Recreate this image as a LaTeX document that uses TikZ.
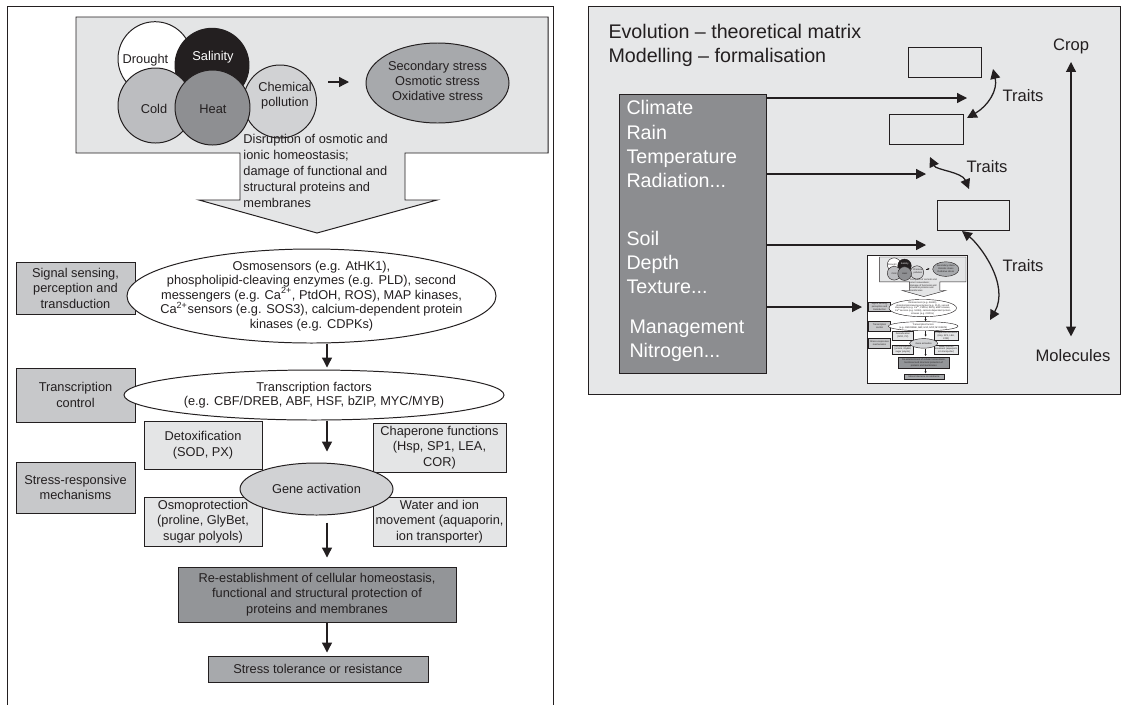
\documentclass[tikz,border=0pt]{standalone}
\usepackage{fontspec}
\setmainfont{Liberation Sans}
\usetikzlibrary{shapes.geometric,arrows.meta,calc}

\definecolor{ink}{HTML}{231F20}
\definecolor{paleg}{HTML}{E4E5E6}
\definecolor{lightg}{HTML}{D1D2D4}
\definecolor{midg}{HTML}{C7C8CA}
\definecolor{coldg}{HTML}{BCBDC0}
\definecolor{darkg}{HTML}{939598}
\definecolor{heatg}{HTML}{8E8F92}
\definecolor{secg}{HTML}{A7A9AC}
\definecolor{envg}{HTML}{8C8D90}
\definecolor{backg}{HTML}{E6E7E8}

\newcommand{\boxfont}{\fontsize{9.1}{11}\selectfont}
\newcommand{\ellfont}{\fontsize{9.1}{10.4}\selectfont}
\newcommand{\envfont}{\fontsize{14}{17.1}\selectfont}
\newcommand{\lblfont}{\fontsize{11.8}{14}\selectfont}

\newcommand{\stresspanel}{%
	\draw [ink, fill=white] (7,-6) rectangle (553,-706);
	\draw [ink, fill=paleg] (76,-17) -- (548,-17) -- (548,-153) -- (405,-153) -- (405,-200) -- (437,-200) -- (317,-233) -- (199,-200) -- (240,-200) -- (240,-153) -- (76,-153) -- cycle;
	\node [blob, fill=white, minimum size=18.5mm] (drought) at (155,-58.7) {};
	\node [blob, fill=lightg, minimum size=18.25mm] (chem) at (280,-101.5) {};
	\node [blob, fill=ink, minimum size=18.5mm] (salt) at (212,-65.3) {};
	\node [blob, fill=coldg, minimum size=18.75mm] (cold) at (155.5,-105.5) {};
	\node [blob, fill=heatg, minimum size=18.75mm] (heat) at (212.5,-107.5) {};
	\node [boxtext] (droughttxt) at (145.5,-60) {Drought};
	\node [boxtext, text=white] (salttxt) at (213,-57) {Salinity};
	\node [boxtext] (chemtxt) at (285,-95.8) {Chemical\\pollution};
	\node [boxtext] (coldtxt) at (154,-109) {Cold};
	\node [boxtext] (heattxt) at (213,-109) {Heat};
	\coordinate (sa) at (328,-82);
	\coordinate (sb) at (349,-82);
	\draw [flow] (sa) -- (sb);
	\node [ell, fill=secg, minimum width=35.75mm, minimum height=20mm] (sec) at (437.5,-83) {};
	\node [elltext] (sectxt) at (437.5,-81) {Secondary stress\\Osmotic stress\\Oxidative stress};
	\node [elltext, align=left, anchor=west, font=\fontsize{9.1}{11.5}\selectfont] (disr) at (243,-171) {Disruption of osmotic and\\ionic homeostasis;\\damage of functional and\\structural proteins and\\membranes};
	\node [box, fill=midg, minimum width=29.75mm, minimum height=13mm] (sig) at (75.5,-288) {Signal sensing,\\perception and\\transduction};
	\node [box, fill=midg, minimum width=29.75mm, minimum height=13.5mm] (trc) at (75.5,-395) {Transcription\\control};
	\node [box, fill=midg, minimum width=29.75mm, minimum height=12.75mm] (srm) at (75.5,-487.5) {Stress-responsive\\mechanisms};
	\node [box, fill=paleg, minimum width=29.5mm, minimum height=12mm] (detox) at (203,-445) {Detoxification\\(SOD, PX)};
	\node [box, fill=paleg, minimum width=33.25mm, minimum height=12.25mm] (chap) at (439.5,-447.5) {Chaperone functions\\(Hsp, SP1, LEA,\\COR)};
	\node [box, fill=paleg, minimum width=29.5mm, minimum height=12.25mm] (osmo) at (203,-521.5) {Osmoprotection\\(proline, GlyBet,\\sugar polyols)};
	\node [box, fill=paleg, minimum width=33.25mm, minimum height=12.25mm] (water) at (439.5,-521.5) {Water and ion\\movement (aquaporin,\\ion transporter)};
	\node [ell, fill=white, minimum width=92.25mm, minimum height=23.5mm] (sens) at (311.5,-296) {};
	\node [elltext] (senstxt) at (sens) {Osmosensors (e.g. AtHK1),\\phospholipid-cleaving enzymes (e.g. PLD), second\\messengers (e.g. Ca\textsuperscript{2+}, PtdOH, ROS), MAP kinases,\\Ca\textsuperscript{2+}sensors (e.g. SOS3), calcium-dependent protein\\kinases (e.g. CDPKs)};
	\node [ell, fill=white, minimum width=95mm, minimum height=12.5mm] (tf) at (314,-395) {};
	\node [elltext] (tftxt) at (tf) {Transcription factors\\(e.g. CBF/DREB, ABF, HSF, bZIP, MYC/MYB)};
	\node [ell, fill=lightg, minimum width=38.25mm, minimum height=13mm] (gene) at (316.5,-489) {};
	\node [elltext] (genetxt) at (gene) {Gene activation};
	\node [box, fill=darkg, minimum width=69.5mm, minimum height=13.75mm] (reest) at (317,-594.5) {Re-establishment of cellular homeostasis,\\functional and structural protection of\\proteins and membranes};
	\node [box, fill=secg, minimum width=55mm, minimum height=6.5mm] (tol) at (318,-669) {Stress tolerance or resistance};
	\coordinate (axis) at (327,0);
	\draw [flow] (sens.south -| axis) -- ($(tf.north -| axis)+(0,2)$);
	\draw [flow] (tf.south -| axis) -- ($(gene.north -| axis)+(0,11)$);
	\draw [flow] ($(gene.south -| axis)+(0,-7)$) -- ($(reest.north -| axis)+(0,9)$);
	\draw [flow] (reest.south -| axis) -- ($(tol.north -| axis)+(0,3)$);
}

\begin{document}
\begin{tikzpicture}[x=0.25mm, y=0.25mm, line width=0.7pt]
	\tikzstyle{every node}+=[inner sep=0pt, text=ink]
	\tikzstyle{blob}=[circle, draw=ink]
	\tikzstyle{boxtext}=[align=center, font=\boxfont]
	\tikzstyle{box}=[rectangle, draw=ink, align=center, font=\boxfont]
	\tikzstyle{ell}=[ellipse, draw=ink]
	\tikzstyle{elltext}=[align=center, font=\ellfont]
	\tikzstyle{envtext}=[align=left, font=\envfont, text=white]
	\tikzstyle{lvbox}=[rectangle, draw=ink, minimum height=7.5mm]
	\tikzstyle{lbl}=[font=\lblfont]
	\tikzstyle{flow}=[draw=ink, line width=0.9pt, -{Triangle[length=7pt,width=7pt]}]
	\tikzstyle{twoway}=[draw=ink, line width=0.9pt, {Triangle[length=7pt,width=7pt]}-{Triangle[length=7pt,width=7pt]}]
	\useasboundingbox (0,0) rectangle (1127,-704);
	\stresspanel
	\draw [ink, fill=backg] (588,-6) rectangle (1120,-394);
	\node [anchor=west, align=left, font=\envfont] (title) at (608,-45) {Evolution -- theoretical matrix\\Modelling -- formalisation};
	\node [rectangle, draw=ink, fill=envg, minimum width=36.75mm, minimum height=69.75mm] (env) at (692.5,-233.5) {};
	\node [envtext, anchor=west] (clim) at (626,-144) {Climate\\Rain\\Temperature\\Radiation...};
	\node [envtext, anchor=west] (soil) at (626,-262) {Soil\\Depth\\Texture...};
	\node [envtext, anchor=west] (mgmt) at (629,-340.5) {Management\\Nitrogen...};
	\node [lvbox, minimum width=18.25mm] (lvA) at (944.5,-62) {};
	\node [lvbox, minimum width=18.5mm] (lvB) at (926,-129) {};
	\node [lvbox, minimum width=18mm] (lvC) at (973,-215) {};
	\begin{scope}[shift={(865.72,-253.9)}, scale=0.183, transform shape, name prefix=m-, line width=0.3pt]
		\tikzstyle{flow}=[draw=ink, line width=0.3pt, -{Triangle[length=1.4pt,width=1.4pt]}]
		\stresspanel
	\end{scope}
	\coordinate (pa) at (967,-98);
	\coordinate (pb) at (926,-174);
	\coordinate (pc) at (926,-245);
	\coordinate (pd) at (862,-307);
	\draw [flow] (env.east |- pa) -- (pa);
	\draw [flow] (env.east |- pb) -- (pb);
	\draw [flow] (env.east |- pc) -- (pc);
	\draw [flow] (env.east |- pd) -- (pd);
	\coordinate (ta1) at (993,-69);
	\coordinate (ta2) at (967,-118);
	\coordinate (tb1) at (930,-157);
	\coordinate (tb2) at (969,-189);
	\coordinate (tc1) at (962,-231);
	\coordinate (tc2) at (990,-320);
	\draw [twoway] (ta1) .. controls (998,-90) and (988,-106) .. (ta2);
	\draw [twoway] (tb1) .. controls (936,-170) and (962,-172) .. (tb2);
	\draw [twoway] (tc1) .. controls (980,-245) and (1010,-285) .. (tc2);
	\node [lbl] (trA) at (1023,-96) {Traits};
	\node [lbl] (trB) at (987,-167) {Traits};
	\node [lbl] (trC) at (1023,-266) {Traits};
	\node [lbl] (crop) at (1071,-46) {Crop};
	\node [lbl] (mol) at (1073,-356) {Molecules};
	\draw [twoway] ($(crop.south)+(0,-8)$) -- ($(crop.south |- mol.north)+(0,13)$);
\end{tikzpicture}
\end{document}
